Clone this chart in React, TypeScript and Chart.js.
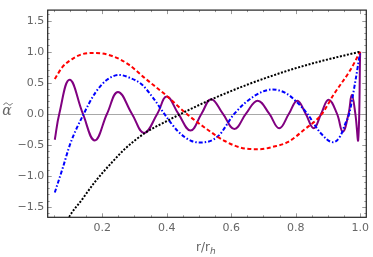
import { useEffect, useRef } from 'react';
import { Chart, registerables } from 'chart.js';
Chart.register(...registerables);

// ---- data ----
const blackR = [0.08, 0.095, 0.138, 0.179, 0.231, 0.272, 0.333, 0.4, 0.445, 0.534, 0.651, 0.779, 0.866, 1.0];
const blackV = [-1.88, -1.69, -1.38, -1.09, -0.78, -0.56, -0.31, -0.12, 0.0, 0.22, 0.47, 0.7, 0.83, 1.0];

const redR = [0.053, 0.077, 0.108, 0.138, 0.179, 0.231, 0.28, 0.333, 0.395, 0.466, 0.525, 0.58, 0.641, 0.687, 0.733, 0.775, 0.826, 0.882, 0.918, 0.969, 1.0];
const redV = [0.56, 0.755, 0.885, 0.96, 0.98, 0.93, 0.8, 0.57, 0.31, -0.02, -0.25, -0.44, -0.56, -0.573, -0.53, -0.46, -0.26, 0.0, 0.31, 0.7, 1.0];

const blueR = [0.053, 0.077, 0.102, 0.143, 0.179, 0.215, 0.253, 0.285, 0.323, 0.36, 0.395, 0.436, 0.477, 0.505, 0.559, 0.61, 0.672, 0.728, 0.77, 0.805, 0.836, 0.877, 0.916, 0.938, 0.954, 0.966, 0.985, 1.0];
const blueV = [-1.27, -0.885, -0.47, 0.0, 0.34, 0.547, 0.625, 0.58, 0.47, 0.24, -0.02, -0.29, -0.44, -0.465, -0.365, 0.0, 0.286, 0.39, 0.33, 0.18, 0.0, -0.31, -0.46, -0.365, -0.16, 0.0, 0.52, 1.0];

const purpleR = [0.053, 0.067, 0.099, 0.14, 0.177, 0.215, 0.249, 0.292, 0.33, 0.371, 0.4, 0.436, 0.474, 0.508, 0.538, 0.574, 0.61, 0.646, 0.682, 0.718, 0.749, 0.779, 0.805, 0.831, 0.856, 0.879, 0.902, 0.928, 0.946, 0.964, 0.974, 0.985, 0.994, 1.0];
const purpleV = [-0.42, 0.0, 0.547, 0.0, -0.43, 0.0, 0.35, 0.0, -0.31, 0.0, 0.276, 0.0, -0.27, 0.0, 0.234, 0.0, -0.245, 0.0, 0.21, 0.0, -0.234, 0.0, 0.21, 0.0, -0.234, 0.0, 0.224, 0.0, -0.29, 0.0, 0.3, 0.0, -0.42, 1.0];

const xTicks = [0.2, 0.4, 0.6, 0.8, 1.0];
const yTicks = [-1.5, -1.0, -0.5, 0.0, 0.5, 1.0, 1.5];
const xRange = [0.031, 1.019];
const yRange = [-1.67, 1.67];

const zip = (xs: number[], ys: number[]) => xs.map((x, i) => ({ x, y: ys[i] }));
const fmt = (v: number) => v.toFixed(1).replace('-', '\u2212');

const framePlugin = {
  id: 'mmaFrame',
  beforeDatasetsDraw(chart: any) {
    const { ctx, chartArea, scales } = chart;
    const y0 = Math.round(scales.y.getPixelForValue(0)) + 0.5;
    ctx.save();
    ctx.strokeStyle = '#a8a8a8';
    ctx.lineWidth = 1;
    ctx.beginPath();
    ctx.moveTo(chartArea.left, y0);
    ctx.lineTo(chartArea.right, y0);
    ctx.stroke();
    ctx.restore();
  },
  afterDatasetsDraw(chart: any) {
    const { ctx, chartArea, scales } = chart;
    const { left, right, top, bottom } = chartArea;
    ctx.save();
    ctx.strokeStyle = '#9a9a9a';
    ctx.lineWidth = 1;
    ctx.beginPath();
    for (let k = 1; k <= 20; k++) {
      const v = k * 0.05;
      const px = Math.round(scales.x.getPixelForValue(v)) + 0.5;
      const len = k % 4 === 0 ? 4 : 2;
      ctx.moveTo(px, bottom);
      ctx.lineTo(px, bottom - len);
      ctx.moveTo(px, top);
      ctx.lineTo(px, top + len);
    }
    for (let k = -16; k <= 16; k++) {
      const v = k * 0.1;
      const py = Math.round(scales.y.getPixelForValue(v)) + 0.5;
      const len = k % 5 === 0 ? 4 : 2;
      ctx.moveTo(left, py);
      ctx.lineTo(left + len, py);
      ctx.moveTo(right, py);
      ctx.lineTo(right - len, py);
    }
    ctx.stroke();
    ctx.strokeStyle = '#222';
    ctx.lineWidth = 1.2;
    ctx.strokeRect(left, top, right - left, bottom - top);
    ctx.restore();
  },
  afterDraw(chart: any) {
    const { ctx } = chart;
    ctx.save();
    ctx.fillStyle = '#666';
    ctx.strokeStyle = '#666';
    ctx.textBaseline = 'alphabetic';
    ctx.textAlign = 'center';
    ctx.font = 'italic 14px "DejaVu Serif"';
    ctx.fillText('\u03B1', 7, 115);
    // tilde accent over alpha
    ctx.lineWidth = 1;
    ctx.beginPath();
    ctx.moveTo(3.5, 105);
    ctx.bezierCurveTo(5, 102.5, 7, 102.5, 8, 104);
    ctx.bezierCurveTo(9, 105.5, 11, 105.5, 12.5, 103);
    ctx.stroke();
    ctx.font = '12px "DejaVu Sans"';
    ctx.textAlign = 'left';
    const base = 251;
    const s1 = 'r/r';
    ctx.fillText(s1, 196, base);
    const w = ctx.measureText(s1).width;
    ctx.font = 'italic 9px "DejaVu Sans"';
    ctx.fillText('h', 196 + w, base + 3);
    ctx.restore();
  },
};

export default function App() {
  const ref = useRef<HTMLCanvasElement>(null);
  useEffect(() => {
    document.body.style.margin = '0';
    const chart = new Chart(ref.current as HTMLCanvasElement, {
      type: 'line',
      data: {
        datasets: [
          {
            data: zip(blackR, blackV),
            borderColor: '#000',
            borderWidth: 2,
            borderDash: [2, 1.6],
            pointRadius: 0,
            cubicInterpolationMode: 'monotone',
          },
          {
            data: zip(redR, redV),
            borderColor: '#ff0000',
            borderWidth: 2,
            borderDash: [4, 2.5],
            pointRadius: 0,
            cubicInterpolationMode: 'monotone',
          },
          {
            data: zip(blueR, blueV),
            borderColor: '#0000ff',
            borderWidth: 2,
            borderDash: [4, 2, 1.5, 2],
            pointRadius: 0,
            cubicInterpolationMode: 'monotone',
          },
          {
            data: zip(purpleR, purpleV),
            borderColor: '#800080',
            borderWidth: 2,
            pointRadius: 0,
            tension: 0.42,
          },
        ],
      },
      options: {
        animation: false,
        responsive: false,
        maintainAspectRatio: false,
        layout: { padding: { top: 3.3, right: 4.7, left: 0, bottom: 0 } },
        plugins: { legend: { display: false }, tooltip: { enabled: false } },
        scales: {
          x: {
            type: 'linear',
            min: xRange[0],
            max: xRange[1],
            grid: { display: false, drawTicks: false },
            border: { display: false },
            afterBuildTicks: (s: any) => { s.ticks = xTicks.map((value) => ({ value })); },
            afterFit: (s: any) => { s.height = 39.7; },
            ticks: {
              padding: 4,
              color: '#666',
              font: { family: 'DejaVu Sans', size: 11 },
              maxRotation: 0,
              autoSkip: false,
              callback: (v: any) => fmt(Number(v)),
            },
          },
          y: {
            type: 'linear',
            min: yRange[0],
            max: yRange[1],
            grid: { display: false, drawTicks: false },
            border: { display: false },
            afterBuildTicks: (s: any) => { s.ticks = yTicks.map((value) => ({ value })); },
            afterFit: (s: any) => { s.width = 47.7; },
            ticks: {
              padding: 3.5,
              color: '#666',
              font: { family: 'DejaVu Sans', size: 11 },
              autoSkip: false,
              callback: (v: any) => fmt(Number(v)),
            },
          },
        },
      },
      plugins: [framePlugin],
    } as any);
    return () => chart.destroy();
  }, []);
  return (
    <div style={{ position: 'absolute', left: 0, top: 0, width: 373, height: 257 }}>
      <canvas ref={ref} width={373} height={257} style={{ width: 373, height: 257, display: 'block' }} />
    </div>
  );
}
